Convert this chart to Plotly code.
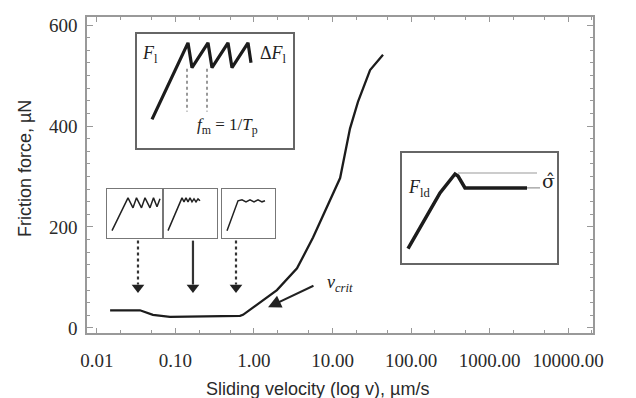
import numpy as np
import plotly.graph_objects as go

# ---------------- data ----------------
velocity = [0.0147, 0.0353, 0.0516, 0.085, 0.664, 0.724, 1.96, 3.53, 5.65, 8.77, 12.5, 16.7, 21.1, 30.1, 44.0]
friction = [35, 35, 26, 22, 24, 26, 75, 118, 179, 246, 297, 395, 448, 511, 541]

x_tickvals = [0.01, 0.1, 1, 10, 100, 1000, 10000]
x_ticktext = ["0.01", "0.10", "1.00", "10.00", "100.00", "1000.00", "10000.00"]
y_tickvals = [0, 200, 400, 600]

# arrows pointing at regimes
arrow_v = [0.0333, 0.167, 0.59]
arrow_top = 173
arrow_tip = 80
arrow_dash = ["dot", "solid", "dot"]

# v_crit arrow (tip and tail)
vcrit_tip = (1.51, 41)
vcrit_tail = (5.98, 85)
vcrit_label = (12.5, 88)

# inset 1: stick-slip sawtooth (time, force)
saw_t = [15, 51, 55, 71, 75, 91, 95, 111, 114]
saw_f = [29, 106, 81, 106, 81, 106, 81, 106, 86]
saw_marks_t = [50, 70]
saw_marks_top = 80
saw_marks_bot = 37

# small insets (time, force)
s1_t = [5, 21, 26, 29.5, 34.5, 38, 43, 46.5, 50, 53]
s1_f = [7, 40, 30, 40, 30, 40, 30, 40, 31, 39]
s2_t = [4, 16, 18, 20, 22, 24, 26, 28, 30, 32, 34, 36]
s2_f = [7, 37, 40, 36, 40, 36, 40, 36, 39, 36, 39, 37]
s3_t = [5, 16, 20, 24, 28, 32, 36, 40, 43]
s3_f = [7, 37, 38, 36, 38, 36, 38, 36, 37]

# right inset: stick to kinetic friction
kd_t = [6, 21, 38, 53, 56, 63, 125]
kd_f = [15, 41, 71, 90, 88, 76, 76]
sigma_line_t = [56, 135]
sigma_line_f = [91, 91]
kin_line_t = [125, 138]
kin_line_f = [76, 76]

# ---------------- layout geometry ----------------
# the page body adds an 8px margin, so the figure is laid out 8px smaller
OFF = 8
W, H = 636 - OFF, 398 - OFF
L, R, T, B = 87 - OFF, 593 - OFF, 15 - OFF, 333 - OFF
PW, PH = R - L, B - T


def dom_x(a, b):
    a, b = a - OFF, b - OFF
    return [(a - L) / PW, (b - L) / PW]


def dom_y(top, bot):
    top, bot = top - OFF, bot - OFF
    return [(B - bot) / PH, (B - top) / PH]


def px_x(x):
    return (x - OFF - L) / PW


def px_y(y):
    return (B - (y - OFF)) / PH


fig = go.Figure()
ink = "#1c1c1c"

# main curve
fig.add_trace(go.Scatter(x=velocity, y=friction, mode="lines",
                         line=dict(color=ink, width=2.3), xaxis="x", yaxis="y",
                         showlegend=False, hoverinfo="skip"))

# regime arrows
for v, d in zip(arrow_v, arrow_dash):
    fig.add_trace(go.Scatter(x=[v, v], y=[arrow_top, arrow_tip + 6], mode="lines",
                             line=dict(color="#333", width=2.2, dash=d),
                             xaxis="x", yaxis="y", showlegend=False, hoverinfo="skip"))
fig.add_trace(go.Scatter(x=arrow_v, y=[arrow_tip] * 3, mode="markers",
                         marker=dict(symbol="triangle-down", size=11, color="#222"),
                         xaxis="x", yaxis="y", showlegend=False, hoverinfo="skip"))

# inset 1
fig.add_trace(go.Scatter(x=saw_t, y=saw_f, mode="lines", line=dict(color=ink, width=3.2),
                         xaxis="x2", yaxis="y2", showlegend=False, hoverinfo="skip"))
for t in saw_marks_t:
    fig.add_trace(go.Scatter(x=[t, t], y=[saw_marks_top, saw_marks_bot], mode="lines",
                             line=dict(color="#555", width=1.2, dash="dot"),
                             xaxis="x2", yaxis="y2", showlegend=False, hoverinfo="skip"))

# small insets
for i, (tt, ff) in enumerate([(s1_t, s1_f), (s2_t, s2_f), (s3_t, s3_f)]):
    fig.add_trace(go.Scatter(x=tt, y=ff, mode="lines", line=dict(color="#222", width=1.5),
                             xaxis=f"x{3+i}", yaxis=f"y{3+i}", showlegend=False, hoverinfo="skip"))

# right inset
fig.add_trace(go.Scatter(x=kd_t, y=kd_f, mode="lines", line=dict(color=ink, width=3.5),
                         xaxis="x6", yaxis="y6", showlegend=False, hoverinfo="skip"))
fig.add_trace(go.Scatter(x=sigma_line_t, y=sigma_line_f, mode="lines", line=dict(color="#999", width=1.2),
                         xaxis="x6", yaxis="y6", showlegend=False, hoverinfo="skip"))
fig.add_trace(go.Scatter(x=kin_line_t, y=kin_line_f, mode="lines", line=dict(color="#999", width=1.2),
                         xaxis="x6", yaxis="y6", showlegend=False, hoverinfo="skip"))

frame = "#999999"
tickfont = dict(family="Liberation Serif, Times New Roman, serif", size=19, color="#2a2a2a")

layout = dict(
    width=W, height=H,
    margin=dict(l=L, r=W - R, t=T, b=H - B, pad=0),
    paper_bgcolor="white", plot_bgcolor="white",
    showlegend=False,
    xaxis=dict(type="log", range=[-2.127, 4.318], domain=[0, 1],
               tickvals=x_tickvals, ticktext=x_ticktext, tickfont=tickfont,
               showgrid=False, zeroline=False, showline=True, linecolor=frame, linewidth=1.5,
               mirror="allticks", ticks="inside", ticklen=5, tickcolor=frame,
               ticklabelstandoff=9,
               minor=dict(ticks="inside", ticklen=3, tickcolor=frame, showgrid=False)),
    yaxis=dict(range=[-10, 616], domain=[0, 1], tickvals=y_tickvals, tickfont=tickfont,
               showgrid=False, zeroline=False, showline=True, linecolor=frame, linewidth=1.5,
               mirror="allticks", ticks="inside", ticklen=6, tickcolor=frame,
               ticklabelstandoff=4,
               minor=dict(ticks="inside", ticklen=3, dtick=25, tickcolor=frame, showgrid=False)),
)


def inset_axes(n, x0, x1, top, bot, color="#666", lw=1.6):
    ax = dict(domain=dom_x(x0, x1), range=[0, x1 - x0], anchor=f"y{n}",
              showline=True, mirror=True, linecolor=color, linewidth=lw,
              showgrid=False, zeroline=False, showticklabels=False, ticks="")
    ay = dict(domain=dom_y(top, bot), range=[0, bot - top], anchor=f"x{n}",
              showline=True, mirror=True, linecolor=color, linewidth=lw,
              showgrid=False, zeroline=False, showticklabels=False, ticks="")
    layout[f"xaxis{n}"] = ax
    layout[f"yaxis{n}"] = ay


inset_axes(2, 137, 293, 32, 147)
inset_axes(3, 107, 162, 188, 237, color="#777", lw=1.3)
inset_axes(4, 164, 217, 188, 237, color="#777", lw=1.3)
inset_axes(5, 222, 275, 188, 237, color="#777", lw=1.3)
inset_axes(6, 402, 557, 152, 263)

fig.update_layout(**layout)

serif_it = dict(family="Liberation Serif, Times New Roman, serif", size=18, color="#222")
anns = [
    dict(text="Sliding velocity (log v), µm/s", xref="paper", yref="paper",
         x=px_x(317), y=px_y(389), showarrow=False, xanchor="center", yanchor="middle",
         font=dict(family="Liberation Sans, Arial, sans-serif", size=18, color="#2a2a2a")),
    dict(text="Friction force, µN", xref="paper", yref="paper",
         x=px_x(25), y=px_y(168), showarrow=False, textangle=-90,
         xanchor="center", yanchor="middle",
         font=dict(family="Liberation Sans, Arial, sans-serif", size=18, color="#2a2a2a")),
    # v_crit arrow
    dict(x=np.log10(vcrit_tip[0]), y=vcrit_tip[1], ax=np.log10(vcrit_tail[0]), ay=vcrit_tail[1],
         xref="x", yref="y", axref="x", ayref="y", text="", showarrow=True,
         arrowhead=2, arrowsize=1.3, arrowwidth=2, arrowcolor="#222"),
    dict(x=np.log10(vcrit_label[0]), y=vcrit_label[1], xref="x", yref="y",
         text="<i>v</i><sub><i>crit</i></sub>", showarrow=False, font=serif_it),
    # inset 1 labels
    dict(x=13, y=94, xref="x2", yref="y2", text="<i>F</i><sub>l</sub>", showarrow=False, font=serif_it),
    dict(x=136, y=94, xref="x2", yref="y2", text="Δ<i>F</i><sub>l</sub>", showarrow=False, font=serif_it),
    dict(x=90, y=22, xref="x2", yref="y2", text="<i>f</i><sub>m</sub> = 1/<i>T</i><sub>p</sub>",
         showarrow=False, font=dict(family="Liberation Serif, serif", size=17, color="#222")),
    # right inset labels
    dict(x=17, y=75, xref="x6", yref="y6", text="<i>F</i><sub>ld</sub>", showarrow=False, font=serif_it),
    dict(x=146, y=83, xref="x6", yref="y6", text="σ\u0302", showarrow=False,
         font=dict(family="DejaVu Serif, serif", size=19, color="#222")),
]
fig.update_layout(annotations=anns)

fig.write_html("out.html")
